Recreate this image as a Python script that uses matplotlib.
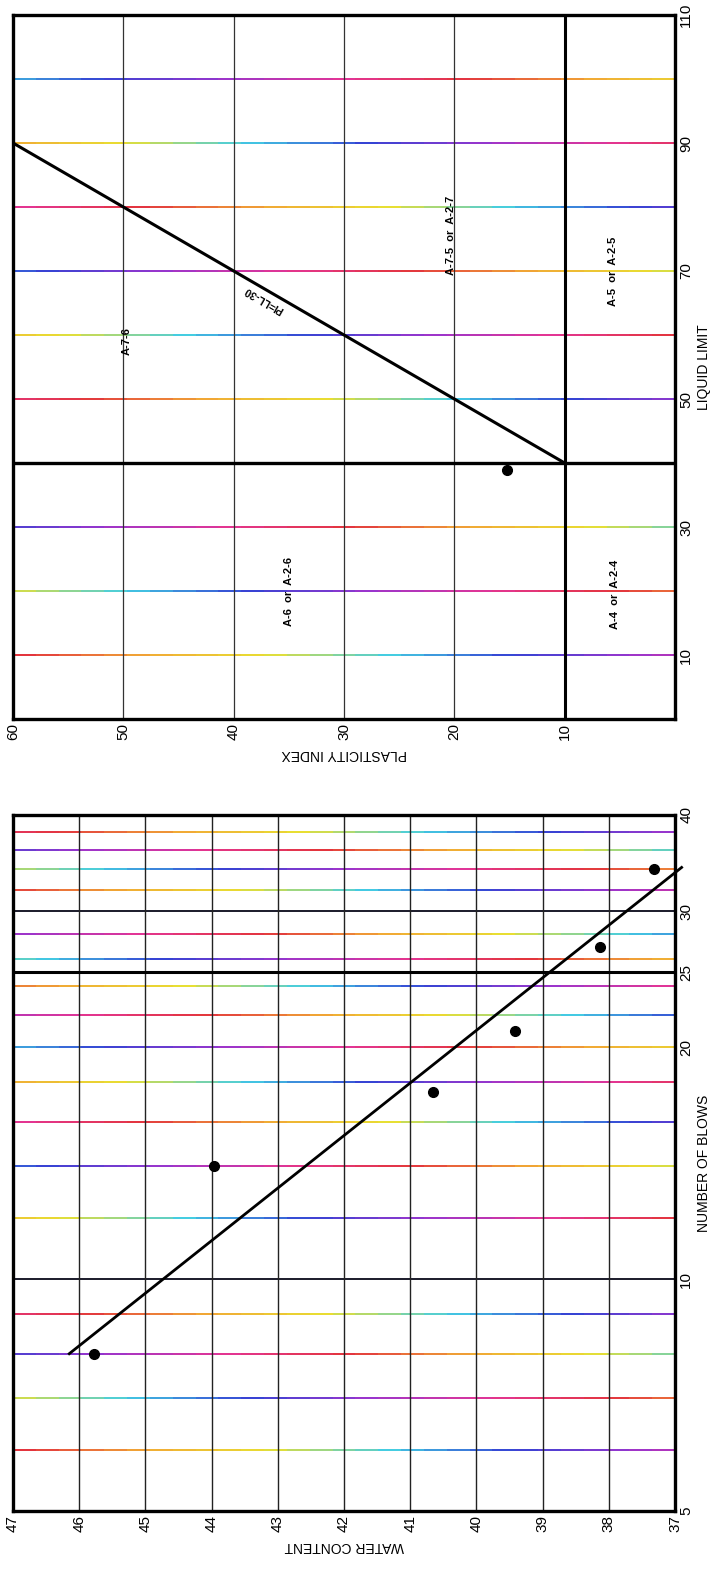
import numpy as np
import matplotlib
matplotlib.use('Agg')
import matplotlib.pyplot as plt
from matplotlib.collections import LineCollection
from matplotlib.colors import LinearSegmentedColormap
from matplotlib.ticker import NullLocator

plt.rcParams['font.family'] = ['Liberation Sans', 'DejaVu Sans']

# --- plasticity chart (drawn turned 90 deg, PI across, LL up) ---
ll_ticks = [10, 30, 50, 70, 90, 110]
pi_ticks = [60, 50, 40, 30, 20, 10]
ll_grid = [10, 20, 30, 50, 60, 70, 80, 90, 100]
pi_grid = [20, 30, 40, 50]
a_line_ll = [40, 90]
a_line_pi = [10, 60]
sample_ll = [38.9]
sample_pi = [15.2]
zone_text = ['A-7-6', 'A-7-5  or  A-2-7', 'A-5  or  A-2-5',
             'A-6  or  A-2-6', 'A-4  or  A-2-4']
zone_pi = [49.7, 20.3, 5.6, 35.0, 5.4]
zone_ll = [59.0, 75.5, 70.0, 20.0, 19.5]

# --- flow curve (water content across, blows up) ---
blows = [8, 14, 17.5, 21, 27, 34]
water = [45.77, 43.97, 40.65, 39.41, 38.13, 37.32]
fit_blows = [8, 34.2]
fit_water = [46.15, 36.9]
blow_ticks = [5, 10, 20, 25, 30, 40]
blow_grid = [6, 7, 8, 9, 12, 14, 16, 18, 20, 22, 24, 26, 28, 32, 34, 36, 38]
blow_dark = [10, 30]
wc_ticks = list(range(47, 36, -1))

scan = LinearSegmentedColormap.from_list(
    'scan', ['#e0202a', '#f0a020', '#e6dc1e', '#30c8e0', '#2030d0',
             '#9020c8', '#e0208a', '#e0202a'])


def scan_hline(ax, y, x0, x1, k):
    # photocopied grid lines drift through colours
    xs = np.linspace(x0, x1, 30)
    pts = np.column_stack([xs, np.full_like(xs, y, dtype=float)])
    segs = np.stack([pts[:-1], pts[1:]], axis=1)
    t = (k * 0.31 + np.linspace(0, 0.75, len(segs))) % 1
    ax.add_collection(LineCollection(segs, colors=scan(t), linewidths=1.3, zorder=1))


def style_axes(ax):
    for s in ax.spines.values():
        s.set_linewidth(2.4)
        s.set_zorder(5)
    ax.tick_params(length=0, labelsize=11, pad=3)
    ax.yaxis.tick_right()
    ax.yaxis.set_label_position('right')
    ax.tick_params(axis='x', labelrotation=90)
    ax.tick_params(axis='y', labelrotation=90)
    for lab in ax.get_yticklabels():
        lab.set_va('center')


W, H = 718, 1573
fig = plt.figure(figsize=(W / 100, H / 100), dpi=100)
L, R = 13, 675

# top panel
ax1 = fig.add_axes([L / W, 1 - 719 / H, (R - L) / W, 704 / H])
ax1.set_xlim(60, 0)
ax1.set_ylim(0, 110)
for k, v in enumerate(ll_grid):
    scan_hline(ax1, v, 60, 0, k)
for v in pi_grid:
    ax1.axvline(v, color='#333333', lw=0.9, zorder=1)
ax1.axvline(10, color='black', lw=2.2, zorder=3)
ax1.axhline(40, color='black', lw=2.4, zorder=3)
ax1.plot(a_line_pi, a_line_ll, color='black', lw=2.2, zorder=3)
ax1.plot(sample_pi, sample_ll, 'o', color='black', ms=7, zorder=4)
for t, p, l in zip(zone_text, zone_pi, zone_ll):
    ax1.text(p, l, t, rotation=90, ha='center', va='center',
             fontsize=8, fontweight='bold', zorder=4)
fig.canvas.draw()
p0 = ax1.transData.transform((a_line_pi[0], a_line_ll[0]))
p1 = ax1.transData.transform((a_line_pi[1], a_line_ll[1]))
ang = np.degrees(np.arctan2(p1[1] - p0[1], p1[0] - p0[0]))
ax1.text(37.3, 65.5, 'PI=LL-30', rotation=ang, ha='center', va='center',
         rotation_mode='anchor', fontsize=7.5, fontweight='bold', zorder=4)
ax1.set_xticks(pi_ticks)
ax1.set_yticks(ll_ticks)
style_axes(ax1)
ax1.set_xlabel('PLASTICITY INDEX', rotation=180, fontsize=10, labelpad=5)
ax1.set_ylabel('LIQUID LIMIT', rotation=90, fontsize=10, labelpad=3)

# bottom panel
ax2 = fig.add_axes([L / W, 1 - 1511 / H, (R - L) / W, 696 / H])
ax2.set_yscale('log')
ax2.set_xlim(47, 37)
ax2.set_ylim(5, 40)
for k, v in enumerate(blow_grid):
    scan_hline(ax2, v, 47, 37, k)
for v in blow_dark:
    ax2.axhline(v, color='#1a1a2a', lw=1.4, zorder=1)
ax2.axhline(25, color='black', lw=2.2, zorder=3)
for v in wc_ticks[1:-1]:
    ax2.axvline(v, color='#222222', lw=1.0, zorder=1)
ax2.plot(fit_water, fit_blows, color='black', lw=2.0, zorder=3, clip_on=False)
ax2.plot(water, blows, 'o', color='black', ms=7, zorder=4)
ax2.set_xticks(wc_ticks)
ax2.set_yticks(blow_ticks)
ax2.set_yticklabels([str(b) for b in blow_ticks])
ax2.yaxis.set_minor_locator(NullLocator())
style_axes(ax2)
ax2.set_xlabel('WATER CONTENT', rotation=180, fontsize=10, labelpad=5)
ax2.set_ylabel('NUMBER OF BLOWS', rotation=90, fontsize=10, labelpad=3)

fig.savefig('out.png', dpi=100)
